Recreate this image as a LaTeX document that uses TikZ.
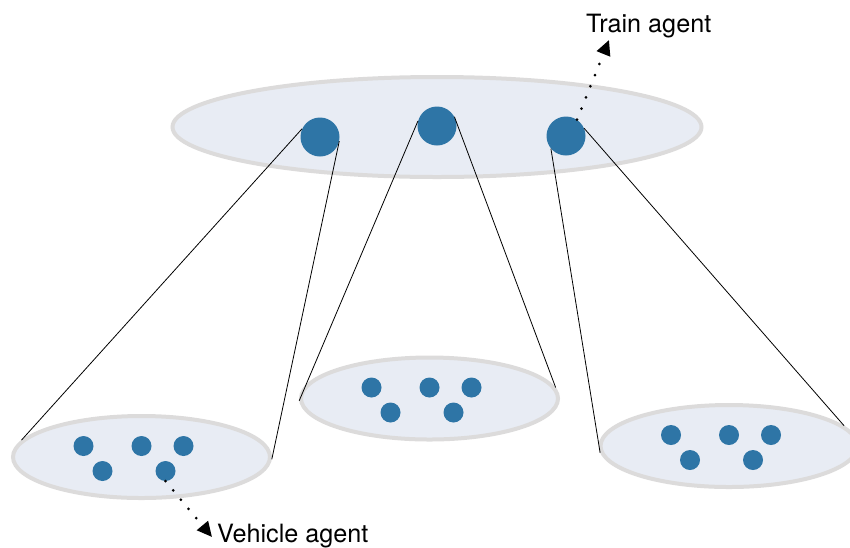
\documentclass[tikz,border=0pt]{standalone}
\usepackage{fontspec}
\setmainfont{TeX Gyre Heros}
\usetikzlibrary{shapes.geometric,arrows.meta}
\definecolor{agentblue}{RGB}{46,117,166}
\definecolor{groupfill}{RGB}{232,236,244}
\definecolor{groupline}{RGB}{220,219,219}
\tikzset{
  group/.style args={#1 by #2}{
    ellipse,draw=groupline,fill=groupfill,line width=4pt,
    minimum width=#1,minimum height=#2,inner sep=0pt}, % cluster of agents
  train/.style={circle,fill=agentblue,minimum size=39pt,inner sep=0pt},
  vehicle/.style={circle,fill=agentblue,minimum size=20pt,inner sep=0pt},
  link/.style={black,line width=0.8pt},
  pointer/.style={line width=3pt,dash pattern=on 0pt off 12pt,line cap=round,
    -{Triangle[length=15pt,width=14pt]}}, % dotted arrow to a label
  tag/.style={anchor=base west,inner sep=0pt,font=\fontsize{25.2}{30}\selectfont},
}

\begin{document}
\begin{tikzpicture}[x=1pt,y=-1pt]
  \useasboundingbox (0,0) rectangle (850,547);

  \node[group=529pt by 100pt] (top) at (437,127) {};
  \node[group=257pt by 82pt] (left) at (141.5,457) {};
  \node[group=257pt by 82pt] (middle) at (429.5,398.5) {};
  \node[group=257pt by 82pt] (right) at (729,446) {};

  \node[train] (t1) at (320,137) {};
  \node[train] (t2) at (437,126) {};
  \node[train] (t3) at (566,136) {};

  \draw[link] (t1.155) -- (left.172);
  \draw[link] (t1.-12) -- (left.-1);
  \draw[link] (t2.165) -- (middle.181);
  \draw[link] (t2.28) -- (middle.5);
  \draw[link] (t3.220) -- (right.183);
  \draw[link] (t3.23) -- (right.10);

  % vehicles, same pattern in every group
  \foreach \g/\x/\y in {l/141.5/457, m/429.5/398.5, r/729/446}
    \foreach \i/\dx/\dy in {1/-58/-11, 2/0/-11, 3/42/-11, 4/-39/14, 5/24/14}
      \node[vehicle] (\g\i) at (\x+\dx,\y+\dy) {};

  \coordinate (traintip) at (609,40);
  \coordinate (vehtip) at (212,537);
  \draw[pointer] (t3.56) -- (traintip);
  \draw[pointer] (l5.south) -- (vehtip);

  \node[tag] (trainlabel) at (586,32) {Train agent};
  \node[tag] (vehlabel) at (217,542) {Vehicle agent};
\end{tikzpicture}
\end{document}
